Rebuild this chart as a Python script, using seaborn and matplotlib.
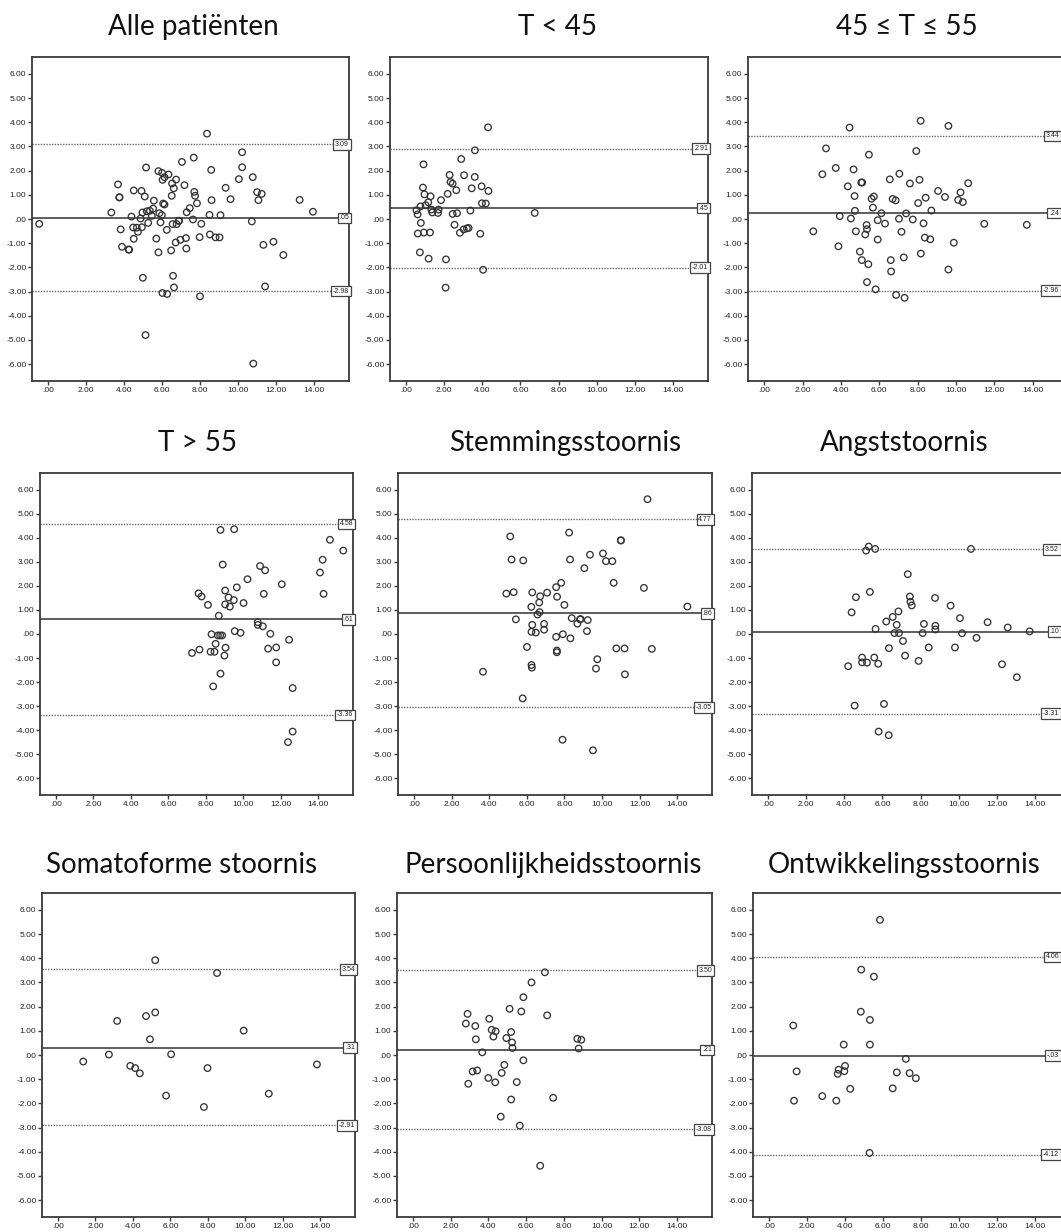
import matplotlib
matplotlib.use("Agg")
import matplotlib.pyplot as plt
import matplotlib.transforms as mtransforms
import seaborn as sns

# --- DATA ---
titles = [
    "Alle patiënten", "T < 45", "45 ≤ T ≤ 55",
    "T > 55", "Stemmingsstoornis", "Angststoornis",
    "Somatoforme stoornis", "Persoonlijkheidsstoornis", "Ontwikkelingsstoornis",
]

# mean difference and limits of agreement (upper, mean, lower)
upper_loa = [3.09, 2.91, 3.44, 4.58, 4.77, 3.52, 3.54, 3.50, 4.06]
mean_diff = [0.05, 0.45, 0.24, 0.61, 0.86, 0.10, 0.31, 0.21, -0.03]
lower_loa = [-2.98, -2.01, -2.96, -3.36, -3.05, -3.31, -2.91, -3.08, -4.12]

alle_x = [-0.47, 3.33, 3.68, 3.75, 3.76, 3.82, 3.89, 4.24, 4.27, 4.39, 4.51, 4.48, 4.51, 4.67,
          4.73, 4.87, 4.92, 4.94, 4.97, 4.99, 5.09, 5.13, 5.16, 5.20, 5.27, 5.36, 5.46, 5.53,
          5.57, 5.70, 5.81, 5.81, 5.86, 5.92, 5.99, 6.00, 6.02, 6.03, 6.06, 6.13, 6.13, 6.25,
          6.27, 6.34, 6.48, 6.51, 6.53, 6.56, 6.58, 6.62, 6.63, 6.72, 6.74, 6.77, 6.88, 6.90,
          6.97, 7.05, 7.18, 7.26, 7.28, 7.30, 7.46, 7.63, 7.67, 7.70, 7.74, 7.84, 7.98, 8.00,
          8.07, 8.37, 8.50, 8.52, 8.59, 8.61, 8.82, 9.03, 9.08, 9.35, 9.61, 10.05, 10.22, 10.22,
          10.73, 10.78, 10.81, 11.01, 11.08, 11.25, 11.34, 11.43, 11.87, 12.39, 13.25, 13.95]
alle_y = [-0.20, 0.27, 1.43, 0.89, 0.90, -0.43, -1.15, -1.26, -1.27, 0.10, 1.18, -0.35, -0.82, -0.36,
          -0.53, 0.02, 1.16, -0.34, 0.27, -2.43, 0.93, -4.80, 2.13, 0.32, -0.16, 0.34, 0.13, 0.43,
          0.76, -0.81, -1.38, 1.98, 0.24, -0.14, 0.16, 1.91, -3.06, 1.62, 0.64, 0.60, 1.73, -0.45,
          -3.10, 1.84, -1.30, 0.96, 1.47, -0.21, -2.35, 1.27, -2.83, -0.97, 1.63, -0.21, -0.08, -0.07,
          -0.86, 2.36, 1.40, -0.79, -1.22, 0.28, 0.45, -0.02, 2.54, 1.12, 0.96, 0.65, -0.75, -3.20,
          -0.20, 3.53, 0.17, -0.64, 2.03, 0.78, -0.76, -0.76, 0.16, 1.29, 0.82, 1.65, 2.76, 2.14,
          -0.10, 1.73, -5.98, 1.11, 0.78, 1.04, -1.07, -2.79, -0.94, -1.49, 0.79, 0.30]

t45_x = [0.54, 0.60, 0.61, 0.72, 0.75, 0.77, 0.88, 0.91, 0.93, 0.96, 1.02, 1.16, 1.18, 1.25, 1.28,
         1.32, 1.37, 1.67, 1.70, 1.83, 2.07, 2.09, 2.18, 2.28, 2.33, 2.44, 2.44, 2.54, 2.63, 2.67,
         2.82, 2.89, 3.02, 3.04, 3.19, 3.28, 3.37, 3.44, 3.60, 3.61, 3.89, 3.96, 3.98, 4.04, 4.18,
         4.30, 4.32, 6.75]
t45_y = [0.36, 0.19, -0.60, -1.38, 0.52, -0.16, 1.30, 2.26, -0.56, 1.02, 0.57, 0.69, -1.64, -0.56, 0.94,
         0.39, 0.27, 0.25, 0.39, 0.78, -2.84, -1.67, 1.04, 1.82, 1.53, 1.46, 0.21, -0.24, 1.19, 0.24,
         -0.57, 2.48, -0.43, 1.81, -0.39, -0.37, 0.35, 1.27, 1.74, 2.84, -0.61, 1.35, 0.65, -2.10, 0.64,
         3.79, 1.16, 0.25]

t45_55_x = [2.56, 3.03, 3.22, 3.73, 3.87, 3.94, 4.36, 4.45, 4.52, 4.66, 4.71, 4.73, 4.78, 4.99, 5.06,
            5.11, 5.09, 5.27, 5.34, 5.36, 5.36, 5.43, 5.46, 5.60, 5.67, 5.72, 5.81, 5.92, 5.92, 6.11,
            6.30, 6.55, 6.60, 6.62, 6.70, 6.86, 6.88, 7.03, 7.05, 7.16, 7.28, 7.32, 7.40, 7.60, 7.75,
            7.93, 8.03, 8.10, 8.16, 8.17, 8.31, 8.38, 8.42, 8.66, 8.72, 9.07, 9.43, 9.61, 9.61, 9.89,
            10.12, 10.24, 10.36, 10.64, 11.48, 13.70]
t45_55_y = [-0.51, 1.85, 2.92, 2.11, -1.13, 0.12, 1.35, 3.78, 0.02, 2.05, 0.95, 0.34, -0.51, -1.35, 1.51,
            1.51, -1.70, -0.64, -0.25, -0.42, -2.61, -1.87, 2.66, 0.84, 0.47, 0.93, -2.91, -0.05, -0.85, 0.24,
            -0.19, 1.64, -1.70, -2.17, 0.83, 0.77, -3.14, 0.01, 1.87, -0.53, -1.59, -3.26, 0.23, 1.47, -0.02,
            2.81, 0.66, 1.62, 4.06, -1.43, -0.18, -0.77, 0.88, -0.84, 0.35, 1.16, 0.91, -2.09, 3.85, -0.98,
            0.79, 1.10, 0.70, 1.48, -0.20, -0.24]

t55_x = [7.26, 7.61, 7.66, 7.77, 8.11, 8.30, 8.25, 8.39, 8.46, 8.52, 8.64, 8.69, 8.76, 8.78, 8.78,
         8.87, 8.90, 8.99, 9.03, 9.03, 9.05, 9.21, 9.28, 9.49, 9.51, 9.54, 9.65, 9.85, 10.01, 10.22,
         10.77, 10.77, 10.89, 11.04, 11.09, 11.16, 11.32, 11.44, 11.75, 11.75, 12.05, 12.38, 12.44, 12.63,
         12.63, 14.09, 14.23, 14.28, 14.62, 15.33]
t55_y = [-0.79, 1.69, -0.65, 1.56, 1.21, -0.01, -0.74, -2.18, -0.74, -0.41, -0.06, 0.76, -0.06, 4.33, -1.65,
         -0.06, 2.89, -0.90, 1.23, 1.81, -0.57, 1.52, 1.14, 1.41, 4.36, 0.12, 1.94, 0.05, 1.29, 2.28,
         0.49, 0.38, 2.83, 0.32, 1.67, 2.65, -0.61, 0.01, -0.56, -1.18, 2.07, -4.50, -0.24, -4.06,
         -2.25, 2.56, 3.09, 1.67, 3.92, 3.47]

stem_x = [3.67, 4.91, 5.12, 5.19, 5.30, 5.42, 5.78, 5.81, 6.01, 6.24, 6.25, 6.27, 6.29, 6.29, 6.25,
          6.48, 6.57, 6.66, 6.68, 6.71, 6.92, 6.92, 7.08, 7.56, 7.56, 7.60, 7.60, 7.61, 7.83, 7.90,
          7.92, 8.00, 8.25, 8.30, 8.32, 8.39, 8.69, 8.83, 8.86, 9.06, 9.20, 9.24, 9.36, 9.52, 9.68,
          9.75, 10.05, 10.21, 10.55, 10.62, 10.76, 11.00, 11.01, 11.20, 11.22, 12.23, 12.42, 12.65, 14.54]
stem_y = [-1.57, 1.68, 4.06, 3.10, 1.74, 0.61, -2.68, 3.06, -0.54, 1.13, -1.29, -1.40, 1.73, 0.38, 0.09,
          0.06, 0.81, 1.31, 0.91, 1.57, 0.42, 0.18, 1.72, -0.12, 1.95, -0.76, -0.69, 1.55, 2.13, -4.40,
          -0.01, 1.21, 4.22, 3.10, -0.18, 0.66, 0.43, 0.61, 0.62, 2.74, 0.12, 0.58, 3.30, -4.84, -1.44,
          -1.05, 3.35, 3.03, 3.03, 2.13, -0.60, 3.89, 3.90, -0.60, -1.68, 1.92, 5.61, -0.62, 1.14]

angst_x = [4.20, 4.38, 4.54, 4.61, 4.93, 4.93, 5.14, 5.19, 5.28, 5.34, 5.57, 5.62, 5.64, 5.78, 5.80,
           6.08, 6.20, 6.34, 6.33, 6.54, 6.63, 6.75, 6.84, 6.87, 7.08, 7.19, 7.33, 7.44, 7.47, 7.54,
           7.90, 8.11, 8.18, 8.43, 8.76, 8.78, 8.78, 9.58, 9.81, 10.07, 10.18, 10.65, 10.94, 11.52,
           12.28, 12.58, 13.06, 13.73]
angst_y = [-1.34, 0.90, -2.98, 1.53, -0.98, -1.18, 3.47, -1.19, 3.64, 1.75, -0.98, 3.54, 0.21, -1.24, -4.06,
           -2.91, 0.52, -0.59, -4.21, 0.71, 0.04, 0.38, 0.94, 0.04, -0.29, -0.90, 2.49, 1.56, 1.34, 1.19,
           -1.12, 0.04, 0.42, -0.56, 1.50, 0.34, 0.19, 1.18, -0.56, 0.66, 0.03, 3.54, -0.16, 0.49,
           -1.26, 0.27, -1.80, 0.11]

soma_x = [1.35, 2.72, 3.16, 3.86, 4.12, 4.37, 4.70, 4.91, 5.19, 5.19, 5.77, 6.04, 7.79, 7.98, 8.49,
          9.91, 11.25, 13.82]
soma_y = [-0.27, 0.02, 1.41, -0.45, -0.54, -0.76, 1.61, 0.65, 3.92, 1.76, -1.68, 0.03, -2.15, -0.54, 3.39,
          1.01, -1.60, -0.39]

pers_x = [2.80, 2.89, 2.93, 3.16, 3.30, 3.33, 3.40, 3.67, 3.99, 4.04, 4.17, 4.26, 4.38, 4.36, 4.65,
          4.70, 4.84, 4.95, 5.12, 5.20, 5.20, 5.25, 5.27, 5.50, 5.66, 5.74, 5.85, 5.85, 6.28, 6.74,
          6.99, 7.11, 7.43, 8.71, 8.78, 8.92]
pers_y = [1.30, 1.70, -1.19, -0.68, 1.20, 0.65, -0.64, 0.11, -0.95, 1.50, 1.04, 0.76, 0.98, -1.13, -2.55,
          -0.74, -0.41, 0.70, 1.91, -1.84, 0.95, 0.52, 0.29, -1.12, -2.92, 1.80, 2.39, -0.22, 3.00, -4.58,
          3.42, 1.64, -1.77, 0.67, 0.27, 0.63]

ontw_x = [1.27, 1.31, 1.45, 2.80, 3.54, 3.61, 3.66, 3.93, 3.96, 4.00, 4.27, 4.83, 4.85, 5.31, 5.31,
          5.29, 5.52, 5.84, 6.51, 6.73, 7.20, 7.40, 7.73]
ontw_y = [1.22, -1.89, -0.68, -1.70, -1.89, -0.78, -0.61, 0.43, -0.67, -0.45, -1.40, 1.79, 3.53, 1.45, 0.43,
          -4.05, 3.24, 5.59, -1.38, -0.72, -0.16, -0.75, -0.96]

x_series = [alle_x, t45_x, t45_55_x, t55_x, stem_x, angst_x, soma_x, pers_x, ontw_x]
y_series = [alle_y, t45_y, t45_55_y, t55_y, stem_y, angst_y, soma_y, pers_y, ontw_y]

x_ticks = [0, 2, 4, 6, 8, 10, 12, 14]
y_ticks = [6, 5, 4, 3, 2, 1, 0, -1, -2, -3, -4, -5, -6]

# --- LAYOUT (pixel boxes of each axes: left, right, top, bottom) ---
W, H = 1061, 1232
boxes = [
    (32, 349, 57, 381), (390, 708, 57, 381), (748, 1068, 57, 381),
    (40, 353, 473, 795), (398, 712, 473, 795), (752, 1070, 473, 795),
    (42, 355, 893, 1217), (397, 712, 893, 1217), (753, 1070, 893, 1217),
]
# title centres (x, y) in pixels
title_pos = [
    (193, 27), (557, 27), (907, 27),
    (197, 443), (565, 443), (904, 443),
    (182, 865), (553, 865), (904, 865),
]


def fmt(v):
    s = f"{v:.2f}"
    return s.replace("0.", ".", 1) if s.startswith(("0.", "-0.")) else s


sns.set_style("white")
plt.rcParams["font.family"] = ["Liberation Sans", "DejaVu Sans"]

fig = plt.figure(figsize=(W / 100, H / 100), dpi=100)
edge = "#3a3a3a"

for i in range(9):
    l, r, t, b = boxes[i]
    ax = fig.add_axes([l / W, 1 - b / H, (r - l) / W, (b - t) / H])

    sns.scatterplot(x=x_series[i], y=y_series[i], ax=ax, marker="o", s=22,
                    facecolor="none", edgecolor="#333333", linewidth=0.95, zorder=3)

    ax.axhline(mean_diff[i], color="#505050", lw=1.3, zorder=2)
    ax.axhline(upper_loa[i], color="#6a6a6a", lw=1.0, ls=(0, (1, 1)), zorder=2)
    ax.axhline(lower_loa[i], color="#6a6a6a", lw=1.0, ls=(0, (1, 1)), zorder=2)

    # value boxes at the right end of the lines (kept inside the figure)
    x_end = min(r, W - 2)
    trans = mtransforms.blended_transform_factory(fig.transFigure, ax.transData)
    for v in (upper_loa[i], mean_diff[i], lower_loa[i]):
        ax.text(x_end / W, v, fmt(v), transform=trans, ha="right", va="center",
                fontsize=5, color="#222222", zorder=4, clip_on=False,
                bbox=dict(boxstyle="square,pad=0.25", fc="white", ec="#444444", lw=0.9))

    ax.set_xlim(-0.85, 15.85)
    ax.set_ylim(-6.7, 6.7)
    ax.set_xticks(x_ticks)
    ax.set_yticks(y_ticks)
    ax.set_xticklabels([fmt(v) for v in x_ticks])
    ax.set_yticklabels([fmt(v) for v in y_ticks])
    ax.tick_params(axis="both", direction="out", length=3, width=1, color=edge,
                   labelsize=6, pad=1, labelcolor="#222222")
    ax.tick_params(left=True, bottom=True)
    for sp in ax.spines.values():
        sp.set_color(edge)
        sp.set_linewidth(1.3)
    ax.set_xlabel("")
    ax.set_ylabel("")

    tx, ty = title_pos[i]
    fig.text(tx / W, 1 - ty / H, titles[i], fontsize=20, family=["Lato", "DejaVu Sans"],
             ha="center", va="center", color="#111111")

fig.savefig("out.png", dpi=100)
